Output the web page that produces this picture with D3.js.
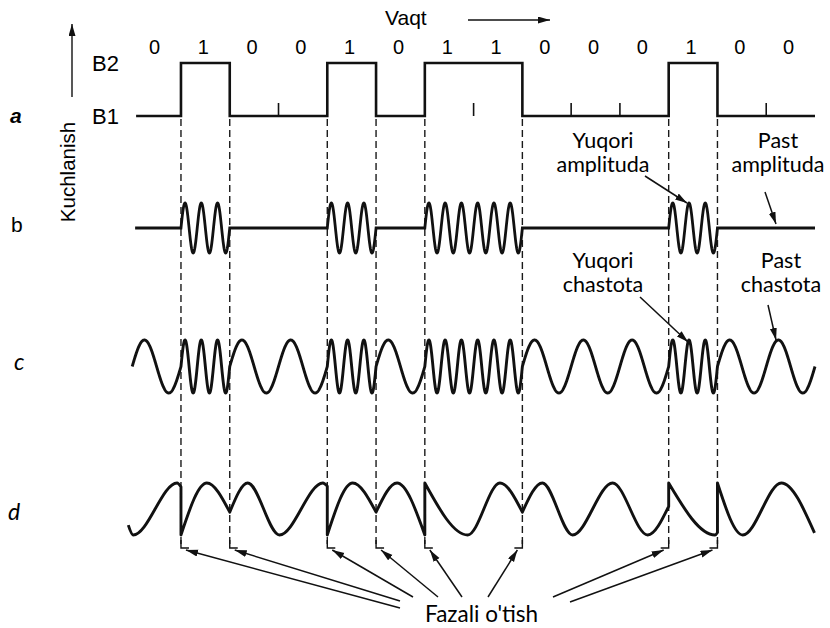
<!DOCTYPE html>
<html>
<head>
<meta charset="utf-8">
<script src="https://cdn.jsdelivr.net/npm/d3@7"></script>
<style>
body{margin:0;background:#fff;}
svg{display:block;}
.ar{font-family:"Liberation Sans",Arial,sans-serif;}
.cb{font-family:Lato,"Open Sans",sans-serif;}
</style>
</head>
<body>
<svg id="chart" width="830" height="628"></svg>
<script>
// data
var bits = [0,1,0,0,1,0,1,1,0,0,0,1,0,0];
var bitLabels = bits.map(String);
var levelLabels = ["B1","B2"];
var rowLabels = ["a","b","c","d"];
var askCycles = {0:0, 1:3};      // carrier cycles per bit, amplitude keying
var fskCycles = {0:1, 1:3};      // carrier cycles per bit, frequency keying
// phase keyed wave: [bit time, level], one run per bit group
var pskRuns = [
    [[-0.08,-0.62],[0.02,-1],[0.92,1],[1.0,0.85]],
    [[1.0,-1],[1.53,1],[2.0,-0.12]],
    [[2.0,-0.12],[2.37,1],[3.02,-1],[3.91,1],[4.0,0.88]],
    [[4.0,-1],[4.52,1],[5.0,-0.12]],
    [[5.0,-0.12],[5.43,1],[6.0,-1]],
    [[6.0,1],[6.88,-1],[7.54,1],[8.0,-0.12]],
    [[8.0,-0.12],[8.41,1],[9.03,-1],[9.85,1],[10.57,-1],[11.0,0.1]],
    [[11.0,1],[11.95,-1],[12.0,-0.9]],
    [[12.0,1],[12.52,-1],[13.31,1],[13.99,-0.92]]
];
var noteTexts = [["Yuqori","amplituda"],["Past","amplituda"],["Yuqori","chastota"],["Past","chastota"]];
var axisTitles = {x:"Vaqt", y:"Kuchlanish"};
var phaseLabel = "Fazali o'tish";

var svg = d3.select("#chart");
var x = d3.scaleLinear().domain([0, bits.length]).range([132.2, 815]);
var yA = d3.scaleLinear().domain([0, 1]).range([116, 63]);
var yB = d3.scaleLinear().domain([-1, 1]).range([253, 203]);
var yC = d3.scaleLinear().domain([-1, 1]).range([393, 340]);
var yD = d3.scaleLinear().domain([-1, 1]).range([535, 483]);

var defs = svg.append("defs");
defs.append("marker").attr("id","arr")
    .attr("markerUnits","userSpaceOnUse")
    .attr("markerWidth",13).attr("markerHeight",8)
    .attr("refX",12).attr("refY",3.5).attr("orient","auto")
    .append("path").attr("d","M0,0L12,3.5L0,7Z").attr("fill","#111");

// bit boundaries where the level changes, and ticks where it does not
var changes = [], same = [];
for (var i = 1; i < bits.length; i++) {
    (bits[i] !== bits[i-1] ? changes : same).push(i);
}

// dashed guides
svg.append("g").selectAll("line").data(changes).enter().append("line")
    .attr("x1", function(d){ return x(d); }).attr("x2", function(d){ return x(d); })
    .attr("y1", 119).attr("y2", 548)
    .attr("stroke","#1a1a1a").attr("stroke-width",1.4).attr("stroke-dasharray","7,4");

// a: digital signal
var sq = bits.map(function(b,i){ return [i === 0 ? 0.08 : i, b]; });
sq.push([bits.length, bits[bits.length-1]]);
svg.append("path")
    .attr("d", d3.line().x(function(d){ return x(d[0]); }).y(function(d){ return yA(d[1]); }).curve(d3.curveStepAfter)(sq))
    .attr("fill","none").attr("stroke","#111").attr("stroke-width",2.6);
svg.append("g").selectAll("line").data(same).enter().append("line")
    .attr("x1", function(d){ return x(d); }).attr("x2", function(d){ return x(d); })
    .attr("y1", yA(0)).attr("y2", yA(0) - 13)
    .attr("stroke","#111").attr("stroke-width",1.6);

svg.append("g").selectAll("text").data(bitLabels).enter().append("text")
    .attr("class","ar").attr("font-size",20).attr("text-anchor","middle")
    .attr("x", function(d,i){ return x(i + 0.5) - 2; }).attr("y", 47).attr("dy",".35em")
    .text(function(d){ return d; });

svg.selectAll(".lvl").data(levelLabels).enter().append("text")
    .attr("class","ar lvl").attr("font-size",22).attr("x",92)
    .attr("y", function(d,i){ return yA(i); }).attr("dy",".36em")
    .text(function(d){ return d; });

// sampled carrier waves
function wave(cycles, from) {
    var pts = [];
    for (var t = from; t <= bits.length + 1e-9; t += 0.005) {
        var k = Math.min(Math.floor(t), bits.length - 1);
        var f = cycles[bits[k]];
        pts.push([t, f ? Math.sin(2 * Math.PI * f * (t - k)) : 0]);
    }
    return pts;
}
svg.append("path")
    .attr("d", d3.line().x(function(d){ return x(d[0]); }).y(function(d){ return yB(d[1]); })(wave(askCycles, 0.06)))
    .attr("fill","none").attr("stroke","#111").attr("stroke-width",2.8);
svg.append("path")
    .attr("d", d3.line().x(function(d){ return x(d[0]); }).y(function(d){ return yC(d[1]); })(wave(fskCycles, 0)))
    .attr("fill","none").attr("stroke","#111").attr("stroke-width",2.9);

var pskLine = d3.line().x(function(d){ return x(d[0]); }).y(function(d){ return yD(d[1]); }).curve(d3.curveMonotoneX);
var pskPath = pskRuns.map(function(r, i){
    var s = pskLine(r);
    return i ? "L" + s.slice(1) : s;
}).join("");
svg.append("path").attr("d", pskPath)
    .attr("fill","none").attr("stroke","#111").attr("stroke-width",2.9).attr("stroke-linejoin","round");

// row labels
var rowPos = [
    {x:10, y:116, cls:"ar", style:"italic", weight:"bold", size:21},
    {x:11, y:225, cls:"ar", style:"normal", weight:"normal", size:21},
    {x:14, y:362, cls:"cb", style:"italic", weight:"normal", size:23},
    {x:8,  y:512, cls:"cb", style:"italic", weight:"normal", size:23}
];
svg.selectAll(".row").data(rowLabels).enter().append("text")
    .attr("class", function(d,i){ return rowPos[i].cls + " row"; })
    .attr("x", function(d,i){ return rowPos[i].x; })
    .attr("y", function(d,i){ return rowPos[i].y; }).attr("dy",".35em")
    .attr("font-size", function(d,i){ return rowPos[i].size; })
    .attr("font-style", function(d,i){ return rowPos[i].style; })
    .attr("font-weight", function(d,i){ return rowPos[i].weight; })
    .text(function(d){ return d; });

// axes hints
svg.append("line").attr("x1",72).attr("y1",97).attr("x2",72).attr("y2",24)
    .attr("stroke","#111").attr("stroke-width",1.4).attr("marker-end","url(#arr)");
svg.append("text").attr("class","ar").attr("font-size",20.5).attr("text-anchor","middle")
    .attr("transform","translate(68,172) rotate(-90)").attr("dy",".35em")
    .text(axisTitles.y);
svg.append("text").attr("class","ar").attr("font-size",21).attr("x",385).attr("y",18).attr("dy",".35em")
    .text(axisTitles.x);
svg.append("line").attr("x1",468).attr("y1",20).attr("x2",550).attr("y2",20)
    .attr("stroke","#111").attr("stroke-width",1.4).attr("marker-end","url(#arr)");

// notes
var noteLayout = [
    {x:603, y:140, from:[645,176], to:[687,203]},
    {x:778, y:140, from:[765,192], to:[776,224]},
    {x:603, y:260, from:[640,297], to:[688,342]},
    {x:781, y:260, from:[768,305], to:[776,340]}
];
noteTexts.forEach(function(lines, i){
    var L = noteLayout[i];
    svg.append("g").selectAll("text").data(lines).enter().append("text")
        .attr("class","cb").attr("font-size",21.5).attr("text-anchor","middle")
        .attr("x", L.x).attr("y", function(d,j){ return L.y + j * 24; }).attr("dy",".35em")
        .text(function(d){ return d; });
    svg.append("line").attr("x1",L.from[0]).attr("y1",L.from[1]).attr("x2",L.to[0]).attr("y2",L.to[1])
        .attr("stroke","#111").attr("stroke-width",1.5).attr("marker-end","url(#arr)");
});

// phase shift callouts
var phaseFrom = [[400,608],[400,601],[413,597],[438,597],[462,597],[488,597],[553,597],[570,602]];
changes.forEach(function(c, i){
    var bx = x(c), dir = bx < 500 ? 1 : -1;
    svg.append("path").attr("d","M" + bx + ",540V548H" + (bx + dir * 8))
        .attr("fill","none").attr("stroke","#111").attr("stroke-width",1.4);
    svg.append("line").attr("x1",phaseFrom[i][0]).attr("y1",phaseFrom[i][1])
        .attr("x2",bx + dir * 5).attr("y2",550)
        .attr("stroke","#111").attr("stroke-width",1.5).attr("marker-end","url(#arr)");
});
svg.append("text").attr("class","cb").attr("font-size",22.5).attr("x",425).attr("y",614).attr("dy",".35em")
    .text(phaseLabel);
</script>
</body>
</html>
